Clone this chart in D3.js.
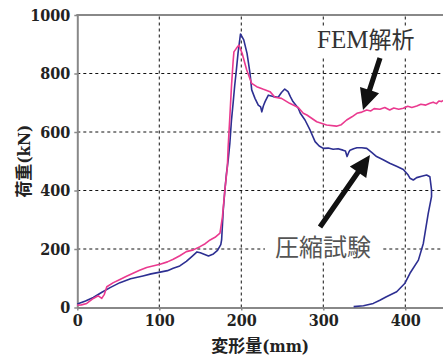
<!DOCTYPE html>
<html>
<head>
<meta charset="utf-8">
<script src="https://cdn.jsdelivr.net/npm/d3@7"></script>
<style>
  body { margin: 0; background: #fff; }
  svg { display: block; }
  .serif { font-family: 'DejaVu Serif Condensed', 'DejaVu Serif', serif; }
  .times { font-family: 'Liberation Serif', 'Times New Roman', serif; }
  .cjk { font-family: 'Noto Sans CJK JP', sans-serif; }
</style>
</head>
<body>
<div id="chart"></div>
<script>
// 圧縮試験 (test) - loading then unloading at the end
const testDisp = [0, 10, 19.5, 30, 40, 52, 65, 80, 90, 101, 110, 117, 125, 133, 140, 146, 150, 160, 166, 171, 175,
  176, 178, 180, 182, 184, 186, 188, 190, 192, 194, 196, 199, 201, 203, 207, 210.6, 212.7, 216.7, 220.7, 223.6, 225, 227,
  229, 233, 239, 245, 249, 253, 257, 260, 263, 269.5, 272, 277.7, 283.8, 290, 295, 300, 306, 312, 318, 324, 327, 329,
  331, 332.6, 337, 341, 347, 353, 359, 365, 373, 381, 390, 397.6, 403, 405.7, 409.8, 413.9, 420, 426, 430, 432, 432,
  428, 422, 416, 405.7, 399.6, 389.5, 377, 369, 361, 349, 337];
const testLoad = [12, 22, 34, 52, 68, 85, 98, 108, 115, 121, 126, 134, 142, 158, 175, 190, 187, 176, 183, 195, 215,
  231, 333, 402, 460, 504, 560, 640, 698, 760, 812, 869, 935, 925, 915, 869, 801, 744, 715, 692, 686, 669, 690,
  704, 726, 721, 719, 735, 747, 738, 720, 704, 681, 664, 641, 607, 567, 552, 544, 545, 541, 543, 538, 535, 516,
  530, 538, 543, 546, 546, 544, 530, 516, 505, 493, 482, 472, 455, 442, 436, 444, 449, 453, 447, 402, 379,
  322, 219, 162, 117, 83, 54, 37, 25, 14, 6, 3];

// FEM解析
const femDisp = [0, 5, 11.5, 19.5, 25.6, 29.8, 33, 36, 44, 52, 60, 68, 76, 84.6, 92, 101, 110, 117, 125, 133, 141.5,
  149.6, 156, 162, 168, 174, 177, 180, 183, 184, 186, 188, 190, 191, 194, 197, 201, 206.6, 212.7, 218.8, 227, 235,
  241, 249, 259, 269.5, 275.6, 280, 292, 304, 316, 322, 328.5, 335, 341, 347, 353, 358, 362, 369, 375, 381, 386,
  392, 397.6, 403, 408, 414, 419, 425, 430, 434, 438, 441, 444, 446];
const femLoad = [8, 9, 14, 31, 40, 31, 45, 71, 85, 96, 107, 117, 127, 137, 142, 148, 156, 165, 177, 191, 197,
  208, 218, 231, 240, 254, 310, 402, 481, 550, 650, 755, 840, 874, 886, 897, 869, 812, 766, 755, 746, 738,
  719, 715, 698, 684, 664, 658, 635, 624, 620, 625, 641, 652, 664, 668, 675, 672, 680, 678, 684, 675, 682,
  678, 681, 688, 684, 689, 695, 692, 698, 702, 697, 706, 704, 708];

const xTicks = [0, 100, 200, 300, 400];
const yTicks = [0, 200, 400, 600, 800, 1000];

const W = 443, H = 356;
const margin = { top: 15, right: 0, bottom: 48.5, left: 77.3 };

const svg = d3.select('#chart')
  .append('svg')
  .attr('width', W)
  .attr('height', H);

const x = d3.scaleLinear()
  .domain([0, 446])
  .range([margin.left, W - margin.right]);

const y = d3.scaleLinear()
  .domain([0, 1000])
  .range([H - margin.bottom, margin.top]);

// grid
svg.append('g')
  .selectAll('line')
  .data(yTicks.filter(d => d > 0 && d < 1000))
  .enter()
  .append('line')
  .attr('x1', x(0)).attr('x2', W)
  .attr('y1', d => y(d)).attr('y2', d => y(d))
  .attr('stroke', '#111').attr('stroke-width', 1).attr('stroke-dasharray', '3,3');

svg.append('g')
  .selectAll('line')
  .data(xTicks.filter(d => d > 0))
  .enter()
  .append('line')
  .attr('x1', d => x(d)).attr('x2', d => x(d))
  .attr('y1', y(0)).attr('y2', y(1000))
  .attr('stroke', '#111').attr('stroke-width', 1).attr('stroke-dasharray', '3,3');

// text backgrounds (hide the grid behind labels)
svg.append('rect').attr('x', 312).attr('y', 27).attr('width', 114).attr('height', 29).attr('fill', '#fff');
svg.append('rect').attr('x', 265).attr('y', 222).attr('width', 117).attr('height', 40).attr('fill', '#fff');

// axes
const yAxis = svg.append('g')
  .attr('transform', `translate(${x(0)},0)`)
  .call(d3.axisLeft(y).tickValues(yTicks).tickFormat(d3.format('d')).tickSize(3).tickSizeOuter(0).tickPadding(4));
const xAxis = svg.append('g')
  .attr('transform', `translate(0,${y(0)})`)
  .call(d3.axisBottom(x).tickValues(xTicks).tickFormat(d3.format('d')).tickSize(3).tickSizeOuter(0).tickPadding(4));

[xAxis, yAxis].forEach(a => {
  a.attr('font-family', null).attr('font-size', null);
  a.select('.domain').attr('stroke', '#888').attr('stroke-width', 2);
  a.selectAll('.tick line').attr('stroke', '#888').attr('stroke-width', 1.5);
  a.selectAll('.tick text')
    .attr('class', 'serif')
    .attr('fill', '#222')
    .style('font-size', '16px')
    .style('font-weight', 'bold');
});

// top border
svg.append('line')
  .attr('x1', x(0) - 1).attr('x2', W)
  .attr('y1', y(1000)).attr('y2', y(1000))
  .attr('stroke', '#888').attr('stroke-width', 2);

// curves
const line = d3.line()
  .x(d => x(d[0]))
  .y(d => y(d[1]));

const testPts = testDisp.map((d, i) => [d, testLoad[i]]);
const femPts = femDisp.map((d, i) => [d, femLoad[i]]);

svg.append('path')
  .datum(testPts)
  .attr('d', line)
  .attr('fill', 'none')
  .attr('stroke', '#2d2f92')
  .attr('stroke-width', 1.6)
  .attr('stroke-linejoin', 'round');

svg.append('path')
  .datum(femPts)
  .attr('d', line)
  .attr('fill', 'none')
  .attr('stroke', '#ea3a8f')
  .attr('stroke-width', 1.6)
  .attr('stroke-linejoin', 'round');

// arrows
function arrow(x1, y1, x2, y2) {
  const dx = x2 - x1, dy = y2 - y1;
  const len = Math.hypot(dx, dy);
  const ux = dx / len, uy = dy / len;
  const px = -uy, py = ux;
  const headLen = 21, headW = 10, shaftW = 2.6;
  const bx = x2 - ux * headLen, by = y2 - uy * headLen;
  const pts = [
    [x1 + px * shaftW, y1 + py * shaftW],
    [bx + px * shaftW, by + py * shaftW],
    [bx + px * headW, by + py * headW],
    [x2, y2],
    [bx - px * headW, by - py * headW],
    [bx - px * shaftW, by - py * shaftW],
    [x1 - px * shaftW, y1 - py * shaftW]
  ];
  svg.append('polygon')
    .attr('points', pts.map(p => p.join(',')).join(' '))
    .attr('fill', '#111');
}
arrow(380, 58, 363, 110);
arrow(320, 227, 370, 155);

// annotations
const fem = svg.append('text')
  .attr('x', 317).attr('y', 48)
  .attr('fill', '#333');
fem.append('tspan').attr('class', 'times').style('font-size', '25px').text('FEM');
fem.append('tspan').attr('class', 'cjk').style('font-size', '23px').text('解析');

svg.append('text')
  .attr('class', 'cjk')
  .attr('x', 275).attr('y', 256)
  .attr('fill', '#555')
  .style('font-size', '24px')
  .text('圧縮試験');

// axis titles
const xt = svg.append('text')
  .attr('x', (x(0) + W) / 2)
  .attr('y', 352)
  .attr('text-anchor', 'middle')
  .attr('fill', '#222')
  .style('font-weight', 'bold')
  .style('font-size', '17px');
xt.append('tspan').attr('class', 'cjk').text('変形量');
xt.append('tspan').attr('class', 'serif').text('(mm)');

const yt = svg.append('text')
  .attr('transform', `translate(30,${(y(0) + y(1000)) / 2}) rotate(-90)`)
  .attr('text-anchor', 'middle')
  .attr('fill', '#222')
  .style('font-weight', 'bold')
  .style('font-size', '17px');
yt.append('tspan').attr('class', 'cjk').text('荷重');
yt.append('tspan').attr('class', 'serif').text('(kN)');
</script>
</body>
</html>
